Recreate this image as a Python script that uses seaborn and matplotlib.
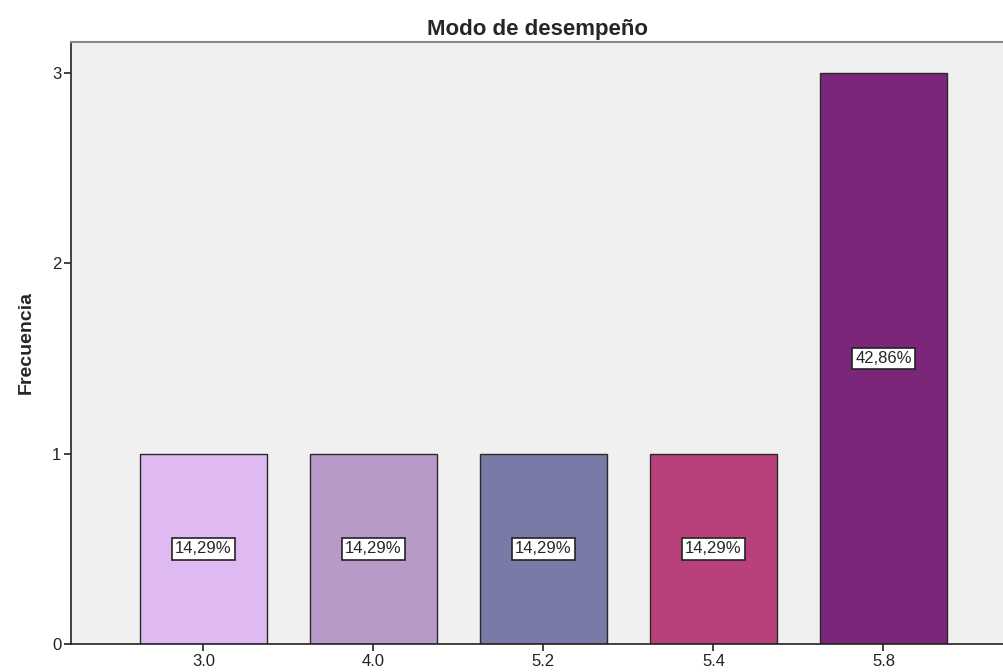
import matplotlib
matplotlib.use("Agg")
from matplotlib import pyplot as plt
import seaborn as sns
import pandas as pd

categories = ["3.0", "4.0", "5.2", "5.4", "5.8"]
counts = [1, 1, 1, 1, 3]
percent_labels = ["14,29%", "14,29%", "14,29%", "14,29%", "42,86%"]
bar_colors = ["#DFB9F2", "#B89AC8", "#7A7AA8", "#B8407B", "#7B2679"]

sns.set_style("white")
plt.rcParams["font.family"] = ["Liberation Sans", "DejaVu Sans"]

df = pd.DataFrame({"modo": categories, "freq": counts})

fig = plt.figure(figsize=(10.04, 6.72), dpi=100)
ax = fig.add_axes([0.0707, 0.0417, 0.9293, 0.8958])
ax.set_facecolor("#F0F0F0")

sns.barplot(data=df, x="modo", y="freq", hue="modo", palette=bar_colors,
            order=categories, width=0.747, edgecolor="#2a2a2a", linewidth=1.0,
            legend=False, saturation=1, ax=ax)

for i, (c, lab) in enumerate(zip(counts, percent_labels)):
    ax.text(i, c / 2, lab, ha="center", va="center", fontsize=12,
            bbox=dict(boxstyle="square,pad=0.2", facecolor="white",
                      edgecolor="#222222", linewidth=1.2))

ax.set_xlim(-0.779, 4.709)
ax.set_ylim(0, 3.163)
ax.set_yticks([0, 1, 2, 3])
ax.set_xlabel("")
ax.set_ylabel("Frecuencia", fontsize=14, fontweight="bold", labelpad=12)
ax.set_title("Modo de desempeño", fontsize=16, fontweight="bold", pad=5)
ax.tick_params(axis="both", direction="out", length=5, width=1.2,
               colors="#222222", labelsize=12, left=True, bottom=True, pad=2)

for side in ["left", "bottom"]:
    ax.spines[side].set_color("#222222")
    ax.spines[side].set_linewidth(1.2)
ax.spines["top"].set_color("#888888")
ax.spines["top"].set_linewidth(1.5)
ax.spines["right"].set_visible(False)

plt.savefig("out.png", dpi=100)
plt.close()
